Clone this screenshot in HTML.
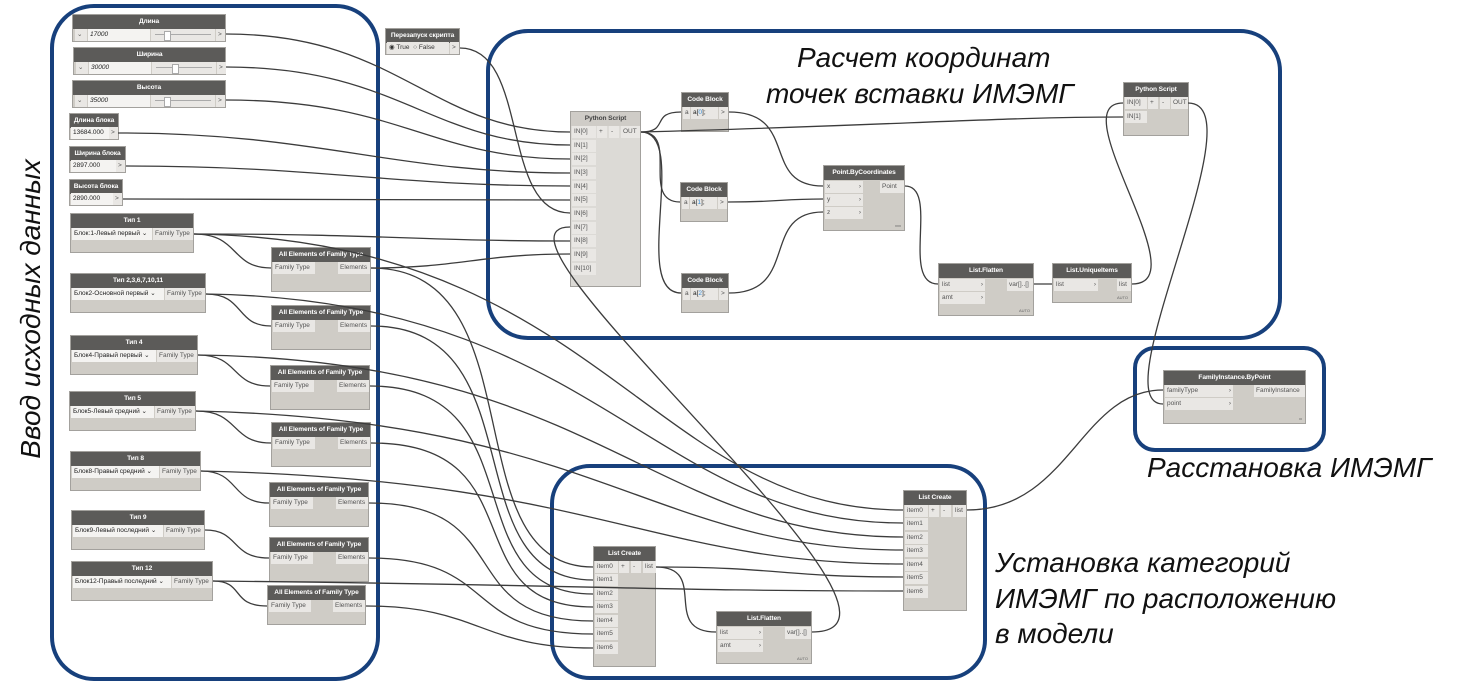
<!DOCTYPE html>
<html><head><meta charset="utf-8">
<style>
body{margin:0;width:1459px;height:689px;background:#fff;position:relative;overflow:hidden;font-family:"Liberation Sans",sans-serif}
.n{position:absolute;background:#cfccc6;border:1px solid #a3a19d;box-sizing:border-box;font-size:7px;color:#555}
.h{background:#5c5b59;color:#fff;font-weight:bold;text-align:center;height:14px;line-height:14px;font-size:6.6px;letter-spacing:-0.1px;white-space:nowrap;overflow:hidden}
.c{position:absolute;background:#e9e7e4;height:12px;line-height:12px;padding:0 2px;white-space:nowrap;box-sizing:border-box;font-size:6.5px;overflow:hidden}
.t{position:absolute;font-style:italic;font-size:28px;color:#111;white-space:nowrap;line-height:1}
svg{position:absolute;left:0;top:0}
.s{background:#f4f3f1;color:#222}
.b{color:#3a8fd8}
.a{position:absolute;font-size:4px;color:#666;right:3px;bottom:2px}
</style></head><body>

<svg width="1459" height="689">
<g fill="none" stroke="#17407c" stroke-width="4">
<rect x="52" y="6" width="326" height="673" rx="42"/>
<rect x="488" y="31" width="792" height="307" rx="40"/>
<rect x="1135" y="348" width="189" height="102" rx="20"/>
<rect x="552" y="466" width="433" height="212" rx="38"/>
</g>
</svg>

<div class="t" style="left:797px;top:44px">Расчет координат</div>
<div class="t" style="left:766px;top:80px">точек вставки ИМЭМГ</div>
<div class="t" style="left:1147px;top:454px">Расстановка ИМЭМГ</div>
<div class="t" style="left:995px;top:549px">Установка категорий</div>
<div class="t" style="left:995px;top:585px">ИМЭМГ по расположению</div>
<div class="t" style="left:995px;top:620px">в модели</div>
<div class="t" style="left:31px;top:309px;transform:translate(-50%,-50%) rotate(-90deg);font-size:28px">Ввод исходных данных</div>

<div class="n" style="left:72px;top:14px;width:154px;height:28px"><div class="h">Длина</div>
<div class="c" style="left:2px;top:14px;width:12px">⌄</div><div class="c s" style="left:15px;top:14px;width:62px;font-style:italic">17000</div><div class="c" style="left:78px;top:14px;width:64px"><div style="position:absolute;left:4px;right:4px;top:5px;height:1px;background:#aaa"></div><div style="position:absolute;left:13px;top:2px;width:5px;height:8px;background:#fff;border:1px solid #aaa"></div></div><div class="c" style="left:143px;top:14px;width:9px">&gt;</div></div>
<div class="n" style="left:73px;top:47px;width:153px;height:28px"><div class="h">Ширина</div>
<div class="c" style="left:2px;top:14px;width:12px">⌄</div><div class="c s" style="left:15px;top:14px;width:62px;font-style:italic">30000</div><div class="c" style="left:78px;top:14px;width:64px"><div style="position:absolute;left:4px;right:4px;top:5px;height:1px;background:#aaa"></div><div style="position:absolute;left:20px;top:2px;width:5px;height:8px;background:#fff;border:1px solid #aaa"></div></div><div class="c" style="left:143px;top:14px;width:9px">&gt;</div></div>
<div class="n" style="left:72px;top:80px;width:154px;height:28px"><div class="h">Высота</div>
<div class="c" style="left:2px;top:14px;width:12px">⌄</div><div class="c s" style="left:15px;top:14px;width:62px;font-style:italic">35000</div><div class="c" style="left:78px;top:14px;width:64px"><div style="position:absolute;left:4px;right:4px;top:5px;height:1px;background:#aaa"></div><div style="position:absolute;left:13px;top:2px;width:5px;height:8px;background:#fff;border:1px solid #aaa"></div></div><div class="c" style="left:143px;top:14px;width:9px">&gt;</div></div>

<div class="n" style="left:69px;top:113px;width:50px;height:27px"><div class="h">Длина блока</div><div class="c s" style="left:1px;top:13px;width:38px">13684.000</div><div class="c" style="left:39px;top:13px;width:9px">&gt;</div></div>
<div class="n" style="left:69px;top:146px;width:57px;height:27px"><div class="h">Ширина блока</div><div class="c s" style="left:1px;top:13px;width:45px">2897.000</div><div class="c" style="left:46px;top:13px;width:9px">&gt;</div></div>
<div class="n" style="left:69px;top:179px;width:54px;height:27px"><div class="h">Высота блока</div><div class="c s" style="left:1px;top:13px;width:42px">2890.000</div><div class="c" style="left:43px;top:13px;width:9px">&gt;</div></div>

<div class="n" style="left:385px;top:28px;width:75px;height:27px"><div class="h">Перезапуск скрипта</div><div class="c" style="left:1px;top:13px;width:62px;color:#333">◉ True &nbsp;○ False</div><div class="c" style="left:64px;top:13px;width:9px">&gt;</div></div>

<div class="n" style="left:70px;top:213px;width:124px;height:40px"><div class="h">Тип 1</div><div class="c s" style="left:1px;top:14px;width:80px">Блок:1-Левый первый ⌄</div><div class="c" style="left:82px;top:14px;width:40px">Family Type</div></div>
<div class="n" style="left:70px;top:273px;width:136px;height:40px"><div class="h">Тип 2,3,6,7,10,11</div><div class="c s" style="left:1px;top:14px;width:92px">Блок2-Основной первый ⌄</div><div class="c" style="left:94px;top:14px;width:40px">Family Type</div></div>
<div class="n" style="left:70px;top:335px;width:128px;height:40px"><div class="h">Тип 4</div><div class="c s" style="left:1px;top:14px;width:84px">Блок4-Правый первый ⌄</div><div class="c" style="left:86px;top:14px;width:40px">Family Type</div></div>
<div class="n" style="left:69px;top:391px;width:127px;height:40px"><div class="h">Тип 5</div><div class="c s" style="left:1px;top:14px;width:83px">Блок5-Левый средний ⌄</div><div class="c" style="left:85px;top:14px;width:40px">Family Type</div></div>
<div class="n" style="left:70px;top:451px;width:131px;height:40px"><div class="h">Тип 8</div><div class="c s" style="left:1px;top:14px;width:87px">Блок8-Правый средний ⌄</div><div class="c" style="left:89px;top:14px;width:40px">Family Type</div></div>
<div class="n" style="left:71px;top:510px;width:134px;height:40px"><div class="h">Тип 9</div><div class="c s" style="left:1px;top:14px;width:90px">Блок9-Левый последний ⌄</div><div class="c" style="left:92px;top:14px;width:40px">Family Type</div></div>
<div class="n" style="left:71px;top:561px;width:142px;height:40px"><div class="h">Тип 12</div><div class="c s" style="left:1px;top:14px;width:98px">Блок12-Правый последний ⌄</div><div class="c" style="left:100px;top:14px;width:40px">Family Type</div></div>

<div class="n" style="left:271px;top:247px;width:100px;height:45px"><div class="h">All Elements of Family Type</div><div class="c" style="left:1px;top:14px;width:42px">Family Type</div><div class="c" style="left:66px;top:14px;width:32px">Elements</div></div>
<div class="n" style="left:271px;top:305px;width:100px;height:45px"><div class="h">All Elements of Family Type</div><div class="c" style="left:1px;top:14px;width:42px">Family Type</div><div class="c" style="left:66px;top:14px;width:32px">Elements</div></div>
<div class="n" style="left:270px;top:365px;width:100px;height:45px"><div class="h">All Elements of Family Type</div><div class="c" style="left:1px;top:14px;width:42px">Family Type</div><div class="c" style="left:66px;top:14px;width:32px">Elements</div></div>
<div class="n" style="left:271px;top:422px;width:100px;height:45px"><div class="h">All Elements of Family Type</div><div class="c" style="left:1px;top:14px;width:42px">Family Type</div><div class="c" style="left:66px;top:14px;width:32px">Elements</div></div>
<div class="n" style="left:269px;top:482px;width:100px;height:45px"><div class="h">All Elements of Family Type</div><div class="c" style="left:1px;top:14px;width:42px">Family Type</div><div class="c" style="left:66px;top:14px;width:32px">Elements</div></div>
<div class="n" style="left:269px;top:537px;width:100px;height:45px"><div class="h">All Elements of Family Type</div><div class="c" style="left:1px;top:14px;width:42px">Family Type</div><div class="c" style="left:66px;top:14px;width:32px">Elements</div></div>
<div class="n" style="left:267px;top:585px;width:99px;height:40px"><div class="h">All Elements of Family Type</div><div class="c" style="left:1px;top:14px;width:42px">Family Type</div><div class="c" style="left:65px;top:14px;width:32px">Elements</div></div>

<div class="n" style="left:570px;top:111px;width:71px;height:176px;background:#dcdad6"><div class="h" style="background:#cfccc7;color:#444">Python Script</div>
<div class="c" style="left:1px;top:14px;width:24px">IN[0]</div><div class="c" style="left:26px;top:14px;width:10px">+</div><div class="c" style="left:38px;top:14px;width:10px">-</div><div class="c" style="left:50px;top:14px;width:19px">OUT</div>
<div class="c" style="left:1px;top:28px;width:24px">IN[1]</div><div class="c" style="left:1px;top:41px;width:24px">IN[2]</div><div class="c" style="left:1px;top:55px;width:24px">IN[3]</div><div class="c" style="left:1px;top:69px;width:24px">IN[4]</div><div class="c" style="left:1px;top:82px;width:24px">IN[5]</div><div class="c" style="left:1px;top:96px;width:24px">IN[6]</div><div class="c" style="left:1px;top:110px;width:24px">IN[7]</div><div class="c" style="left:1px;top:123px;width:24px">IN[8]</div><div class="c" style="left:1px;top:137px;width:24px">IN[9]</div><div class="c" style="left:1px;top:151px;width:24px">IN[10]</div></div>

<div class="n" style="left:681px;top:92px;width:48px;height:40px"><div class="h">Code Block</div><div class="c" style="left:1px;top:14px;width:7px">a</div><div class="c" style="left:9px;top:14px;width:27px;color:#222">a[<span class="b">0</span>];</div><div class="c" style="left:37px;top:14px;width:9px">&gt;</div></div>
<div class="n" style="left:680px;top:182px;width:48px;height:40px"><div class="h">Code Block</div><div class="c" style="left:1px;top:14px;width:7px">a</div><div class="c" style="left:9px;top:14px;width:27px;color:#222">a[<span class="b">1</span>];</div><div class="c" style="left:37px;top:14px;width:9px">&gt;</div></div>
<div class="n" style="left:681px;top:273px;width:48px;height:40px"><div class="h">Code Block</div><div class="c" style="left:1px;top:14px;width:7px">a</div><div class="c" style="left:9px;top:14px;width:27px;color:#222">a[<span class="b">2</span>];</div><div class="c" style="left:37px;top:14px;width:9px">&gt;</div></div>

<div class="n" style="left:823px;top:165px;width:82px;height:66px"><div class="h">Point.ByCoordinates</div><div class="c" style="left:1px;top:15px;width:38px">x<span style="float:right">›</span></div><div class="c" style="left:1px;top:28px;width:38px">y<span style="float:right">›</span></div><div class="c" style="left:1px;top:41px;width:38px">z<span style="float:right">›</span></div><div class="c" style="left:56px;top:15px;width:24px">Point</div><div class="a">xxx</div></div>

<div class="n" style="left:938px;top:263px;width:96px;height:53px"><div class="h">List.Flatten</div><div class="c" style="left:1px;top:15px;width:45px">list<span style="float:right">›</span></div><div class="c" style="left:1px;top:28px;width:45px">amt<span style="float:right">›</span></div><div class="c" style="left:68px;top:15px;width:26px">var[]..[]</div><div class="a">AUTO</div></div>
<div class="n" style="left:1052px;top:263px;width:80px;height:40px"><div class="h">List.UniqueItems</div><div class="c" style="left:1px;top:15px;width:44px">list<span style="float:right">›</span></div><div class="c" style="left:64px;top:15px;width:14px">list</div><div class="a">AUTO</div></div>

<div class="n" style="left:1123px;top:82px;width:66px;height:54px"><div class="h">Python Script</div><div class="c" style="left:1px;top:14px;width:22px">IN[0]</div><div class="c" style="left:24px;top:14px;width:10px">+</div><div class="c" style="left:36px;top:14px;width:10px">-</div><div class="c" style="left:47px;top:14px;width:17px">OUT</div><div class="c" style="left:1px;top:28px;width:22px">IN[1]</div></div>

<div class="n" style="left:1163px;top:370px;width:143px;height:54px"><div class="h">FamilyInstance.ByPoint</div><div class="c" style="left:1px;top:14px;width:68px">familyType<span style="float:right">›</span></div><div class="c" style="left:1px;top:27px;width:68px">point<span style="float:right">›</span></div><div class="c" style="left:90px;top:14px;width:51px">FamilyInstance</div><div class="a">ııı</div></div>

<div class="n" style="left:903px;top:490px;width:64px;height:121px"><div class="h">List Create</div><div class="c" style="left:1px;top:14px;width:23px">item0</div><div class="c" style="left:25px;top:14px;width:10px">+</div><div class="c" style="left:37px;top:14px;width:10px">-</div><div class="c" style="left:49px;top:14px;width:13px">list</div><div class="c" style="left:1px;top:27px;width:23px">item1</div><div class="c" style="left:1px;top:41px;width:23px">item2</div><div class="c" style="left:1px;top:54px;width:23px">item3</div><div class="c" style="left:1px;top:68px;width:23px">item4</div><div class="c" style="left:1px;top:81px;width:23px">item5</div><div class="c" style="left:1px;top:95px;width:23px">item6</div></div>
<div class="n" style="left:593px;top:546px;width:63px;height:121px"><div class="h">List Create</div><div class="c" style="left:1px;top:14px;width:23px">item0</div><div class="c" style="left:25px;top:14px;width:10px">+</div><div class="c" style="left:37px;top:14px;width:10px">-</div><div class="c" style="left:49px;top:14px;width:13px">list</div><div class="c" style="left:1px;top:27px;width:23px">item1</div><div class="c" style="left:1px;top:41px;width:23px">item2</div><div class="c" style="left:1px;top:54px;width:23px">item3</div><div class="c" style="left:1px;top:68px;width:23px">item4</div><div class="c" style="left:1px;top:81px;width:23px">item5</div><div class="c" style="left:1px;top:95px;width:23px">item6</div></div>
<div class="n" style="left:716px;top:611px;width:96px;height:53px"><div class="h">List.Flatten</div><div class="c" style="left:1px;top:15px;width:45px">list<span style="float:right">›</span></div><div class="c" style="left:1px;top:28px;width:45px">amt<span style="float:right">›</span></div><div class="c" style="left:68px;top:15px;width:26px">var[]..[]</div><div class="a">AUTO</div></div>

<svg width="1459" height="689">
<g fill="none" stroke="#3c3c3c" stroke-width="1.3">
<path d="M226 34C400 34 430 132 570 132"/>
<path d="M226 67C400 67 430 145 570 145"/>
<path d="M226 100C400 100 430 159 570 159"/>
<path d="M118 133C320 133 390 173 570 173"/>
<path d="M126 166C320 166 390 186 570 186"/>
<path d="M123 199C320 199 400 200 570 200"/>
<path d="M460 48C530 48 500 213 570 213"/>
<path d="M812 632C960 632 460 227 570 227"/>
<path d="M194 234C380 234 420 241 570 241"/>
<path d="M371 268C460 268 480 254 570 254"/>
<path d="M194 234C240 234 230 268 271 268"/>
<path d="M206 294C245 294 235 326 271 326"/>
<path d="M198 355C240 355 230 386 270 386"/>
<path d="M196 411C240 411 230 443 271 443"/>
<path d="M201 471C240 471 230 503 269 503"/>
<path d="M205 530C240 530 230 558 269 558"/>
<path d="M213 581C245 581 230 606 267 606"/>
<path d="M371 268C540 268 450 567 593 567"/>
<path d="M371 326C540 326 450 580 593 580"/>
<path d="M370 386C540 386 450 594 593 594"/>
<path d="M371 443C540 443 450 607 593 607"/>
<path d="M369 503C520 503 450 621 593 621"/>
<path d="M369 558C500 558 460 634 593 634"/>
<path d="M366 606C480 606 480 648 593 648"/>
<path d="M194 234C600 240 650 510 903 510"/>
<path d="M206 294C600 300 650 523 903 523"/>
<path d="M198 355C600 360 650 537 903 537"/>
<path d="M196 411C600 420 650 550 903 550"/>
<path d="M201 471C600 480 650 564 903 564"/>
<path d="M656 567C780 567 780 577 903 577"/>
<path d="M213 581C600 585 650 591 903 591"/>
<path d="M656 567C710 567 660 632 716 632"/>
<path d="M641 132C670 132 650 112 681 112"/>
<path d="M641 132C680 132 640 202 680 202"/>
<path d="M641 132C690 132 630 293 681 293"/>
<path d="M641 132C900 125 1000 117 1123 117"/>
<path d="M729 112C800 112 760 186 823 186"/>
<path d="M728 202C780 202 780 199 823 199"/>
<path d="M729 293C800 293 760 212 823 212"/>
<path d="M905 186C940 186 900 284 938 284"/>
<path d="M1034 284L1052 284"/>
<path d="M1132 284C1200 284 1060 103 1123 103"/>
<path d="M1188 103C1260 103 1100 404 1163 404"/>
<path d="M967 510C1070 510 1080 390 1163 390"/>
</g>
</svg>
</body></html>
